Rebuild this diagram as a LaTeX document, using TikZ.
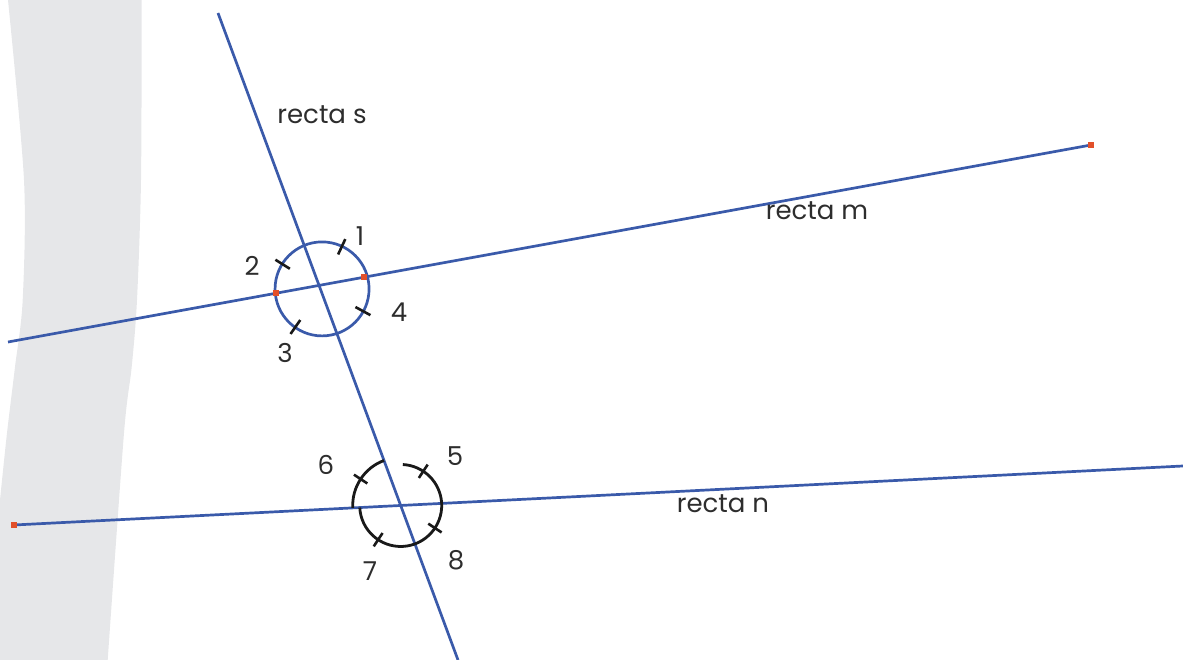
\documentclass[tikz,border=0pt]{standalone}
\usepackage{fontspec}
\setmainfont{Poppins}
\usetikzlibrary{calc}
\definecolor{lblue}{RGB}{58,90,170}
\definecolor{pred}{RGB}{226,80,42}
\definecolor{band}{RGB}{230,231,233}
\definecolor{txt}{RGB}{45,45,45}
\definecolor{ink}{RGB}{25,25,25}
\begin{document}
\begin{tikzpicture}[x=1pt,y=1pt,
  rline/.style={draw=lblue,line width=2.7pt},
  redpt/.style={fill=pred,minimum size=6pt,inner sep=0pt,draw=none,rectangle},
  ticksty/.style={draw=ink,line width=2.6pt},
  arcsty/.style={draw=ink,line width=2.8pt},
  lbl/.style={text=txt,font=\fontsize{26}{30}\selectfont,inner sep=0pt}]
\useasboundingbox (0,0) rectangle (1183,660);
% grey band
\fill[band] (8,660) -- (141.7,660)
  -- plot[smooth] coordinates {(141.7,660) (141,480) (137,360) (131.7,293) (124,227) (107.7,0)}
  -- (0,0) -- (0,160)
  -- plot[smooth] coordinates {(0,160) (7,227) (15,293) (22.7,360) (24,480) (8,660)} -- cycle;
% end points
\coordinate (s1) at (218,647);
\coordinate (s2) at (458,0);
\coordinate (m1) at (8,318);
\coordinate (m2) at (1091,515);
\coordinate (n1) at (14,135);
\coordinate (n2) at (1183,194);
\coordinate (A) at (intersection of s1--s2 and m1--m2);
\coordinate (B) at (intersection of s1--s2 and n1--n2);
\coordinate (C) at ($(A)+(3,-3.5)$);
% lines
\draw[rline] (s1) -- (s2);
\draw[rline] (m1) -- (m2);
\draw[rline] (n1) -- (n2);
% angle marks at A
\draw[lblue,line width=2.7pt] (C) circle[radius=47pt];
\foreach \a in {65,148,235,331.5}
  \draw[ticksty] ($(C)+(\a:38pt)$) -- ($(C)+(\a:55pt)$);
\node[redpt] (pa) at ($(m1)!0.3287!(m2)$) {};
\node[redpt] (pb) at ($(m1)!0.2478!(m2)$) {};
% angle marks at B
\draw[arcsty] ($(B)+(110.35:48pt)$) arc[start angle=110.35,end angle=182.93,radius=48pt];
\draw[arcsty] ($(B)+(182.93:41pt)$) arc[start angle=182.93,end angle=447,radius=41pt];
\draw[ticksty] ($(B)+(146.6:40pt)$) -- ($(B)+(146.6:56pt)$);
\foreach \a in {56.6,236.6,326.6}
  \draw[ticksty] ($(B)+(\a:33pt)$) -- ($(B)+(\a:49pt)$);
% red end points
\node[redpt] (m2p) at (m2) {};
\node[redpt] (n1p) at (n1) {};
% labels
\node[lbl] (ls) at (322,545) {recta s};
\node[lbl] (lm) at (817,449) {recta m};
\node[lbl] (ln) at (723,156) {recta n};
\node[lbl] (l1) at (360,424) {1};
\node[lbl] (l2) at (252,394) {2};
\node[lbl] (l3) at (285,307) {3};
\node[lbl] (l4) at (399,348) {4};
\node[lbl] (l5) at (455,204) {5};
\node[lbl] (l6) at (326,195) {6};
\node[lbl] (l7) at (370,89) {7};
\node[lbl] (l8) at (456,100) {8};
\end{tikzpicture}
\end{document}
